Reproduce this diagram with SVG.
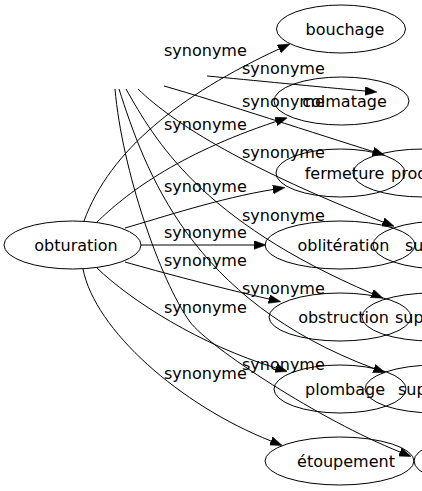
<svg xmlns="http://www.w3.org/2000/svg" width="422" height="491" viewBox="0 0 422 491">
<style>
.n{fill:none;stroke:#000;stroke-width:1}
.e{fill:none;stroke:#000;stroke-width:1;marker-end:url(#ah)}
text{font-family:"DejaVu Sans",Verdana,sans-serif;font-size:16px;fill:#000}
.c{text-anchor:middle}
</style>
<defs>
<marker id="ah" markerUnits="userSpaceOnUse" markerWidth="12" markerHeight="9" viewBox="0 0 11 8" refX="0" refY="4" orient="auto">
<path d="M0,0 L11,4 L0,8 z" fill="#000" stroke="#000" stroke-width="0.5"/>
</marker>
</defs>
<g id="edges">
<path class="e" d="M84,221 C110,150 180,95 279,49"/>
<path class="e" d="M97,222 C125,195 175,155 276,121.5"/>
<path class="e" d="M125,228 C160,218 220,198 273,189.5"/>
<path class="e" d="M141,245 L254,245"/>
<path class="e" d="M125,262 C160,272 220,288 269,299"/>
<path class="e" d="M97,268 C130,300 200,345 276,368"/>
<path class="e" d="M83,269 C95,330 180,405 271,441"/>
<path class="e" d="M207,76 C250,80 320,87 365,91"/>
<path class="e" d="M164,86 C220,102 320,135 373,151.5"/>
<path class="e" d="M138,89 C175,125 250,170 383,222"/>
<path class="e" d="M126,89 C155,140 200,220 372,293.5"/>
<path class="e" d="M119,89 C145,170 190,300 374,368.5"/>
<path class="e" d="M115,89 C122,170 160,280 190,322 C210,348 320,420 400,452"/>
</g>
<g id="node-obturation"><ellipse class="n" cx="72.5" cy="245" rx="68.5" ry="24"/><text class="c" x="76" y="250.5">obturation</text></g>
<g id="node-bouchage"><ellipse class="n" cx="341" cy="29" rx="64.5" ry="24"/><text class="c" x="345" y="35">bouchage</text></g>
<g id="node-colmatage"><ellipse class="n" cx="341.5" cy="101" rx="67.5" ry="24"/><text class="c" x="344.5" y="107">colmatage</text></g>
<g id="node-fermeture"><ellipse class="n" cx="340.5" cy="173" rx="64.5" ry="24"/><text class="c" x="344.5" y="178.5">fermeture</text></g>
<g id="node-prod"><ellipse class="n" cx="423" cy="173" rx="70" ry="24"/><text x="391" y="178.5">prod</text></g>
<g id="node-obliteration"><ellipse class="n" cx="340" cy="245" rx="75" ry="24"/><text class="c" x="343.5" y="250.5">oblitération</text></g>
<g id="node-su"><ellipse class="n" cx="443" cy="245" rx="70" ry="24"/><text x="405" y="250.5">su</text></g>
<g id="node-obstruction"><ellipse class="n" cx="340" cy="317" rx="71" ry="24"/><text class="c" x="343.5" y="322.5">obstruction</text></g>
<g id="node-sup1"><ellipse class="n" cx="432" cy="317" rx="70" ry="24"/><text x="395" y="322.5">sup</text></g>
<g id="node-plombage"><ellipse class="n" cx="340" cy="389" rx="66" ry="24"/><text class="c" x="345" y="394.5">plombage</text></g>
<g id="node-sup2"><ellipse class="n" cx="435" cy="389" rx="70" ry="24"/><text x="398" y="394.5">sup</text></g>
<g id="node-etoupement"><ellipse class="n" cx="339.5" cy="461" rx="74.5" ry="24"/><text class="c" x="346" y="466.5">étoupement</text></g>
<g id="node-last"><ellipse class="n" cx="484" cy="461" rx="70" ry="24"/></g>
<g id="labels">
<text x="164" y="56">synonyme</text>
<text x="164" y="130">synonyme</text>
<text x="164" y="192">synonyme</text>
<text x="164" y="238">synonyme</text>
<text x="164" y="266">synonyme</text>
<text x="164" y="313">synonyme</text>
<text x="164" y="379">synonyme</text>
<text x="242" y="74">synonyme</text>
<text x="242" y="107">synonyme</text>
<text x="242" y="158">synonyme</text>
<text x="242" y="221">synonyme</text>
<text x="242" y="294">synonyme</text>
<text x="242" y="370">synonyme</text>
</g>
</svg>
